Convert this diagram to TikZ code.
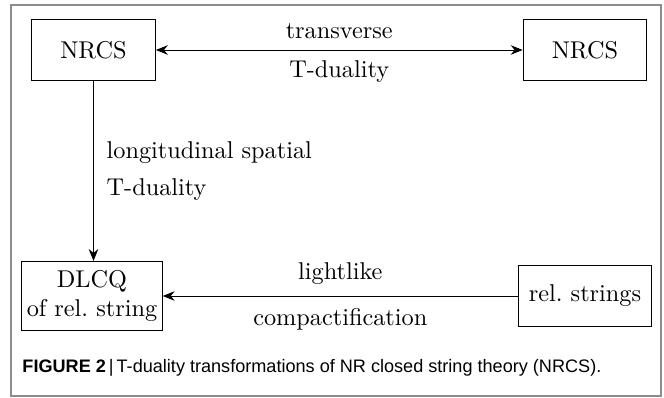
\documentclass[tikz,border=0pt]{standalone}
\usepackage{fontspec}
\newfontfamily\capfont{Liberation Sans}
\usetikzlibrary{arrows.meta, positioning}
\frenchspacing
\tikzset{
  base/.style = {
    draw, minimum height=26pt, text centered, align=center,
    font=\fontsize{10.2}{12.5}\selectfont
  },
  block/.style = {
    base, minimum width=52pt
  },
  wideblock/.style = {
    base, minimum width=59pt, minimum height=29pt, inner xsep=2pt
  },
  lbl/.style = {
    font=\fontsize{10.2}{12.5}\selectfont
  },
  arrow/.style = {
    -{Stealth[length=5pt,width=4pt]}
  },
  twoarrow/.style = {
    {Stealth[length=5pt,width=4pt]}-{Stealth[length=5pt,width=4pt]}
  },
  frame/.style = {
    draw=black!45, line width=0.6pt
  }
}

\begin{document}
\begin{tikzpicture}[x=0.42pt, y=-0.42pt]

  % Frame and size
  \useasboundingbox (0,0) rectangle (664,398);
  \draw[frame] (11,5) rectangle (661,396);

  % Boxes
  \node[block] (nrcsleft) at (93.5,50) {NRCS};
  \node[block] (nrcsright) at (585,50) {NRCS};
  \node[wideblock] (dlcq) at (92,296) {DLCQ\\of rel. string};
  \node[block, minimum width=56pt] (relstr) at (585,296) {rel. strings};

  % Arrows
  \draw[twoarrow] (nrcsleft) -- node[lbl, above=1pt] (transv) {transverse}
    node[lbl, below=1pt] (tdualtop) {T-duality} (nrcsright);
  \draw[arrow] (nrcsleft.south) -- node[lbl, right=2pt, align=left] (longit)
    {longitudinal spatial\\[3pt]T-duality} (nrcsleft.south |- dlcq.north);
  \draw[arrow] (relstr) -- node[lbl, above=1.5pt] (light) {lightlike}
    node[lbl, below=1.5pt] (compact) {compactification} (dlcq);

  % Caption
  \node[anchor=west, inner sep=0pt, font=\capfont\fontsize{7.6}{9}\selectfont] (caption) at (22,368)
    {\textbf{FIGURE 2}\,|\,T-duality transformations of NR closed string theory (NRCS).};

\end{tikzpicture}
\end{document}
